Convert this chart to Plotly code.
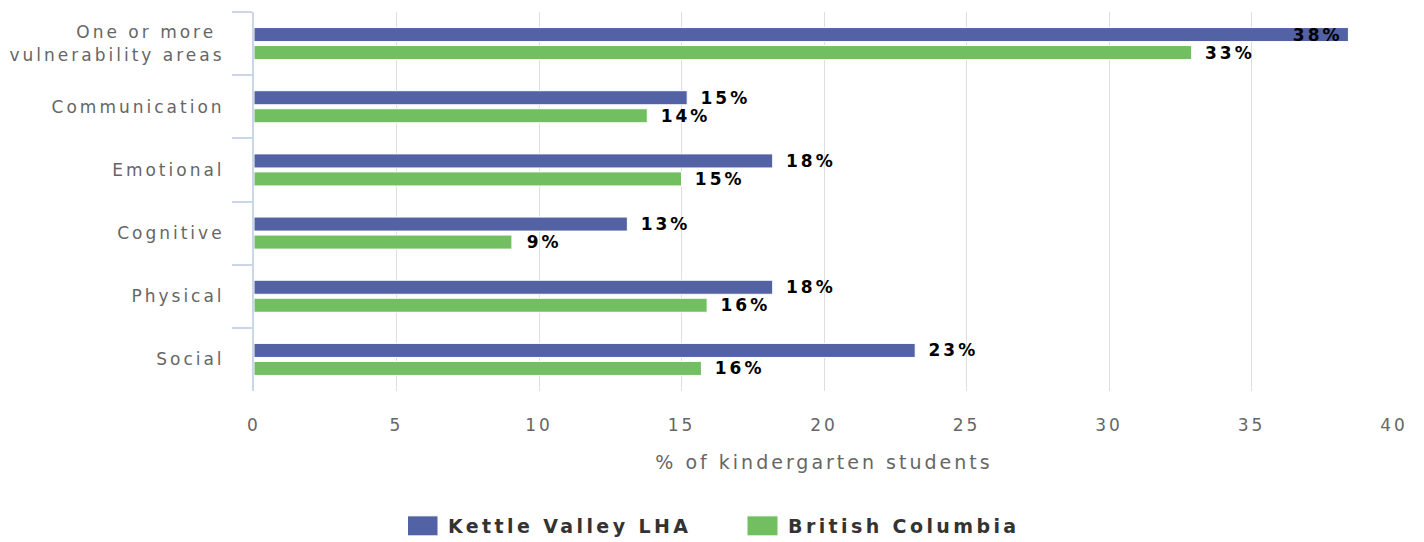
import plotly.graph_objects as go

categories = ["One or more <br>vulnerability areas", "Communication", "Emotional",
              "Cognitive", "Physical", "Social"]
kettle_valley = [38.4, 15.2, 18.2, 13.1, 18.2, 23.2]
british_columbia = [32.9, 13.8, 15.0, 9.05, 15.9, 15.7]
series_names = ["Kettle Valley LHA", "British Columbia"]
x_ticks = [0, 5, 10, 15, 20, 25, 30, 35, 40]

FONT = "DejaVu Sans"
NB = "\u00a0"
X_MAX = 40


def labels(vals):
    txt, pos = [], []
    for v in vals:
        s = f"{round(v)}%"
        if v > X_MAX - 3:
            txt.append(s + NB)
            pos.append("inside")
        else:
            txt.append(NB + NB + s)
            pos.append("outside")
    return txt, pos


fig = go.Figure()
for name, vals, color in [(series_names[0], kettle_valley, "#5262a4"),
                          (series_names[1], british_columbia, "#72bf62")]:
    txt, pos = labels(vals)
    fig.add_trace(go.Bar(
        y=categories, x=vals, name=name, orientation="h",
        marker=dict(color=color, line=dict(color="#ffffff", width=1)),
        text=txt, textposition=pos, textangle=0, constraintext="none",
        insidetextanchor="end", cliponaxis=False,
        textfont=dict(family=FONT, size=17, color="#000000", weight="bold"),
        hoverinfo="skip",
    ))

fig.update_layout(
    width=1424, height=542,
    margin=dict(l=254, r=30, t=12, b=151),
    paper_bgcolor="#ffffff", plot_bgcolor="#ffffff",
    barmode="group", bargap=0.43, bargroupgap=0.22,
    font=dict(family=FONT, color="#666666"),
    showlegend=True,
    legend=dict(orientation="h", xref="container", yref="container",
                x=0.5 + 36 / 1424, xanchor="center", y=1 - 526 / 542, yanchor="middle",
                font=dict(family=FONT, size=19, color="#333333", weight="bold"),
                itemwidth=30, tracegroupgap=0,
                entrywidth=295, entrywidthmode="pixels"),
    xaxis=dict(range=[0, X_MAX], tickvals=x_ticks, showgrid=True,
               gridcolor="#dedede", gridwidth=1, zeroline=False,
               showline=False, ticks="", ticklabelstandoff=22,
               tickfont=dict(family=FONT, size=17, color="#666666"),
               title=dict(text="% of kindergarten students", standoff=21,
                          font=dict(family=FONT, size=19, color="#666666"))),
    yaxis=dict(autorange="reversed", showline=True, linecolor="#ccd6eb",
               linewidth=2, ticks="outside", tickson="boundaries", ticklen=20,
               tickcolor="#ccd6eb", tickwidth=2, showgrid=False,
               ticklabelstandoff=24,
               tickfont=dict(family=FONT, size=17, color="#666666")),
)

post = """
document.body.style.margin = '0';
var st = document.createElement('style');
st.textContent = 'svg text{letter-spacing:3px;} .legendtext{letter-spacing:3.4px;}';
document.head.appendChild(st);
document.querySelectorAll('.legendpoints path').forEach(function(p){
  p.setAttribute('d', 'M10,10H-21V-10H10Z');
});
"""

fig.write_html("out.html", post_script=post, config={"displayModeBar": False})
